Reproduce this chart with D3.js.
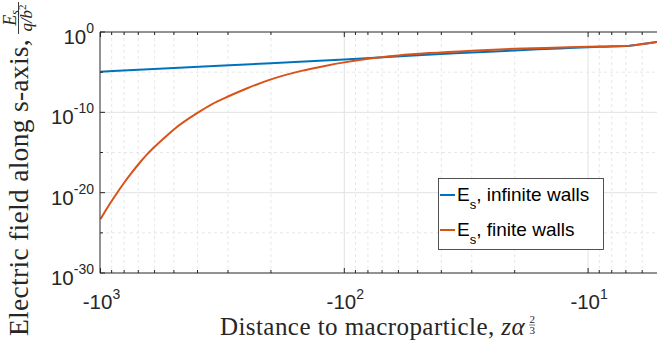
<!DOCTYPE html>
<html>
<head>
<meta charset="utf-8">
<script src="https://cdn.jsdelivr.net/npm/d3@7"></script>
<style>
  html, body { margin: 0; padding: 0; background: #fff; }
  svg { display: block; }
</style>
</head>
<body>
<svg id="chart" width="657" height="351"></svg>
<script>
// Distance to macroparticle (negative, log-spaced) and field magnitude
const zInfinite = [-1000, -500, -200, -100, -50, -30, -20, -15, -12, -10, -8.5, -7.5, -7, -6.5, -6, -5.5, -5.2];
const eInfinite = [1.15e-5, 3.3e-5, 1.32e-4, 3.8e-4, 1.32e-3, 2.8e-3, 5.1e-3, 7.6e-3, 1.02e-2, 1.29e-2, 1.51e-2, 1.70e-2, 1.78e-2, 2.3e-2, 3.2e-2, 4.6e-2, 5.8e-2];

const zFinite = [-1000, -950, -900, -850, -800, -750, -700, -650, -600, -550, -500, -400, -350, -300, -250, -200, -150, -120, -100, -80, -60, -45, -30, -20, -15, -12, -10, -8.5, -7.5, -7, -6.5, -6, -5.5, -5.2];
const eFinite = [5.2e-24, 6.8e-23, 9.3e-22, 1.23e-20, 1.7e-19, 2.3e-18, 3.2e-17, 4.3e-16, 5.1e-15, 5.9e-14, 7.5e-13, 8.5e-11, 9.8e-10, 9.3e-9, 1.0e-7, 1.26e-6, 1.44e-5, 6.0e-5, 1.66e-4, 4.6e-4, 1.18e-3, 2.35e-3, 4.8e-3, 8.1e-3, 1.05e-2, 1.29e-2, 1.48e-2, 1.62e-2, 1.74e-2, 1.82e-2, 2.3e-2, 3.2e-2, 4.6e-2, 5.8e-2];

const seriesNames = ["infinite walls", "finite walls"];
const seriesColors = ["#0072BD", "#D95319"];

const xMajorTicks = [-1000, -100, -10];
const xMajorExp = ["3", "2", "1"];
const xMinorTicks = [-900, -800, -700, -600, -500, -400, -300, -200,
                     -90, -80, -70, -60, -50, -40, -30, -20,
                     -9, -8, -7, -6];
const yMajorTicks = [1, 1e-10, 1e-20, 1e-30];
const yMajorExp = ["0", "-10", "-20", "-30"];
const yMinorTicks = [1e-5, 1e-15, 1e-25];

const svg = d3.select("#chart");
const pLeft = 100, pTop = 32, pBottom = 273, pRight = 657;

const x = d3.scaleLog().domain([-1000, -5]).range([100.5, 661.5]);
const y = d3.scaleLog().domain([1e-30, 1]).range([pBottom, pTop]);

const axisColor = "#262626";

// grid
const grid = svg.append("g");
grid.selectAll("line.xminor").data(xMinorTicks).join("line")
  .attr("x1", d => x(d)).attr("x2", d => x(d))
  .attr("y1", pTop).attr("y2", pBottom)
  .attr("stroke", "#e1e1e1").attr("stroke-width", 0.8).attr("stroke-dasharray", "3,3");
grid.selectAll("line.yminor").data(yMinorTicks).join("line")
  .attr("x1", pLeft).attr("x2", pRight)
  .attr("y1", d => y(d)).attr("y2", d => y(d))
  .attr("stroke", "#e1e1e1").attr("stroke-width", 0.8).attr("stroke-dasharray", "3,3");
grid.selectAll("line.xmajor").data(xMajorTicks.slice(1)).join("line")
  .attr("x1", d => x(d)).attr("x2", d => x(d))
  .attr("y1", pTop).attr("y2", pBottom)
  .attr("stroke", "#e2e2e2").attr("stroke-width", 1);
grid.selectAll("line.ymajor").data(yMajorTicks.slice(1, 3)).join("line")
  .attr("x1", pLeft).attr("x2", pRight)
  .attr("y1", d => y(d)).attr("y2", d => y(d))
  .attr("stroke", "#e2e2e2").attr("stroke-width", 1);

// curves
svg.append("defs").append("clipPath").attr("id", "plotclip")
  .append("rect").attr("x", pLeft).attr("y", pTop).attr("width", pRight - pLeft).attr("height", pBottom - pTop);

const line = d3.line().x(d => x(d[0])).y(d => y(d[1])).curve(d3.curveMonotoneX);
const plot = svg.append("g").attr("clip-path", "url(#plotclip)");
const dataSets = [d3.zip(zInfinite, eInfinite), d3.zip(zFinite, eFinite)];
dataSets.forEach((ds, i) => {
  plot.append("path").datum(ds)
    .attr("d", line)
    .attr("fill", "none")
    .attr("stroke", seriesColors[i])
    .attr("stroke-width", 2)
    .attr("stroke-linejoin", "round");
});

// axes frame
const frame = svg.append("g").attr("stroke", axisColor).attr("stroke-width", 1);
frame.append("line").attr("x1", pLeft).attr("x2", pRight).attr("y1", pTop).attr("y2", pTop);
frame.append("line").attr("x1", pLeft).attr("x2", pRight).attr("y1", pBottom).attr("y2", pBottom);
frame.append("line").attr("x1", pLeft).attr("x2", pLeft).attr("y1", pTop).attr("y2", pBottom);

// ticks (inward)
const tickG = svg.append("g").attr("stroke", axisColor).attr("stroke-width", 1);
xMajorTicks.forEach(t => {
  tickG.append("line").attr("x1", x(t)).attr("x2", x(t)).attr("y1", pBottom).attr("y2", pBottom - 5);
  tickG.append("line").attr("x1", x(t)).attr("x2", x(t)).attr("y1", pTop).attr("y2", pTop + 5);
});
xMinorTicks.forEach(t => {
  tickG.append("line").attr("x1", x(t)).attr("x2", x(t)).attr("y1", pBottom).attr("y2", pBottom - 3);
  tickG.append("line").attr("x1", x(t)).attr("x2", x(t)).attr("y1", pTop).attr("y2", pTop + 3);
});
yMajorTicks.forEach(t => {
  tickG.append("line").attr("x1", pLeft).attr("x2", pLeft + 5).attr("y1", y(t)).attr("y2", y(t));
});
yMinorTicks.forEach(t => {
  tickG.append("line").attr("x1", pLeft).attr("x2", pLeft + 3).attr("y1", y(t)).attr("y2", y(t));
});

// tick labels
const tickFont = "'Liberation Sans', Arial, sans-serif";
xMajorTicks.forEach((t, i) => {
  const tx = svg.append("text")
    .attr("x", x(t) + 1).attr("y", 308.5)
    .attr("text-anchor", "middle")
    .attr("font-family", tickFont).attr("font-size", 20.5).attr("fill", axisColor);
  tx.append("tspan").text("-10");
  tx.append("tspan").attr("dy", -10).attr("font-size", 14).text(xMajorExp[i]);
});
yMajorTicks.forEach((t, i) => {
  const ty = svg.append("text")
    .attr("x", 94).attr("y", y(t) + 12)
    .attr("text-anchor", "end")
    .attr("font-family", tickFont).attr("font-size", 20.5).attr("fill", axisColor);
  ty.append("tspan").text("10");
  ty.append("tspan").attr("dy", -11).attr("font-size", 14).text(yMajorExp[i]);
});

// axis titles
const serif = "'Liberation Serif', 'Times New Roman', serif";
const xl = svg.append("text")
  .attr("y", 335)
  .attr("font-family", serif).attr("font-size", 25).attr("letter-spacing", 0.45)
  .attr("fill", axisColor);
xl.append("tspan").text("Distance to macroparticle, ");
xl.append("tspan").attr("font-style", "italic").text("zα");
// centre label plus its 2/3 exponent under the plot area
const xlLen = xl.node().getComputedTextLength();
const xlStart = (pLeft + pRight) / 2 - (xlLen + 12) / 2;
xl.attr("x", xlStart);
const fx = xlStart + xlLen + 7;
svg.append("text").attr("x", fx).attr("y", 322.5).attr("text-anchor", "middle")
  .attr("font-family", serif).attr("font-size", 11).attr("fill", axisColor).text("2");
svg.append("line").attr("x1", fx - 3).attr("x2", fx + 3).attr("y1", 325).attr("y2", 325)
  .attr("stroke", axisColor).attr("stroke-width", 0.6);
svg.append("text").attr("x", fx).attr("y", 333.5).attr("text-anchor", "middle")
  .attr("font-family", serif).attr("font-size", 11).attr("fill", axisColor).text("3");

const yl = svg.append("g").attr("transform", "translate(28,336) rotate(-90)");
yl.append("text").attr("x", 0).attr("y", 0)
  .attr("font-family", serif).attr("font-size", 27.5).attr("letter-spacing", 0.3)
  .attr("fill", axisColor)
  .text("Electric field along s-axis,");
// field normalisation written as E_s over q/b^2
const fr = yl.append("g").attr("transform", "translate(318,0)");
const num = fr.append("text").attr("x", 0).attr("y", -12.5).attr("text-anchor", "middle")
  .attr("font-family", serif).attr("font-size", 18).attr("fill", axisColor);
num.append("tspan").attr("font-style", "italic").text("E");
num.append("tspan").attr("font-style", "italic").attr("font-size", 12).attr("dy", 3).text("s");
fr.append("line").attr("x1", -16).attr("x2", 16).attr("y1", -9.5).attr("y2", -9.5)
  .attr("stroke", axisColor).attr("stroke-width", 0.9);
const den = fr.append("text").attr("x", 0).attr("y", 4).attr("text-anchor", "middle")
  .attr("font-family", serif).attr("font-size", 17).attr("fill", axisColor);
den.append("tspan").attr("font-style", "italic").text("q/b");
den.append("tspan").attr("font-size", 11).attr("dy", -6).text("2");

// legend
const lg = svg.append("g");
lg.append("rect").attr("x", 438.5).attr("y", 178.5).attr("width", 165).attr("height", 71)
  .attr("fill", "#fff").attr("stroke", axisColor).attr("stroke-width", 0.8);
const rowsY = [195, 230];
seriesNames.forEach((name, i) => {
  lg.append("line").attr("x1", 440).attr("x2", 455).attr("y1", rowsY[i]).attr("y2", rowsY[i])
    .attr("stroke", seriesColors[i]).attr("stroke-width", 2);
  const t = lg.append("text").attr("x", 457).attr("y", rowsY[i] + 6)
    .attr("font-family", tickFont).attr("font-size", 19).attr("fill", "#000");
  t.append("tspan").text("E");
  t.append("tspan").attr("font-size", 13).attr("dy", 8).text("s");
  t.append("tspan").attr("dy", -8).text(", " + name);
});
</script>
</body>
</html>
